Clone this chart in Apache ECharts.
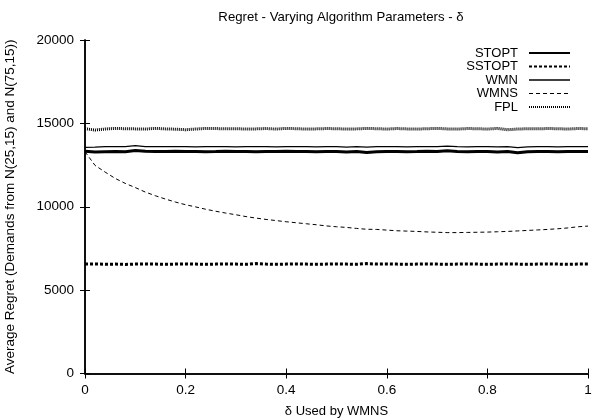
<!DOCTYPE html>
<html>
<head>
<meta charset="utf-8">
<script src="https://cdn.jsdelivr.net/npm/echarts@6/dist/echarts.min.js"></script>
<style>
  html, body { margin: 0; padding: 0; background: #fff; }
  #chart { width: 594px; height: 419px; }
</style>
</head>
<body>
<div id="chart"></div>
<script>
var deltas = [0, 0.02, 0.04, 0.06, 0.08, 0.1, 0.12, 0.14, 0.16, 0.18,
    0.2, 0.22, 0.24, 0.26, 0.28, 0.3, 0.32, 0.34, 0.36, 0.38,
    0.4, 0.42, 0.44, 0.46, 0.48, 0.5, 0.52, 0.54, 0.56, 0.58,
    0.6, 0.62, 0.64, 0.66, 0.68, 0.7, 0.72, 0.74, 0.76, 0.78,
    0.8, 0.82, 0.84, 0.86, 0.88, 0.9, 0.92, 0.94, 0.96, 0.98, 1];

var stopt = [13330, 13290, 13300, 13310, 13300, 13380, 13330, 13320, 13310, 13330,
    13320, 13310, 13300, 13310, 13330, 13320, 13310, 13300, 13320, 13310,
    13330, 13320, 13310, 13300, 13320, 13310, 13290, 13310, 13260, 13300,
    13310, 13320, 13300, 13310, 13330, 13310, 13360, 13310, 13300, 13320,
    13310, 13290, 13310, 13240, 13300, 13320, 13310, 13300, 13320, 13310, 13310];

var sstopt = [6560, 6570, 6550, 6560, 6540, 6560, 6570, 6560, 6550, 6560,
    6570, 6560, 6550, 6560, 6570, 6560, 6550, 6590, 6560, 6550,
    6560, 6570, 6560, 6550, 6560, 6570, 6560, 6550, 6590, 6560,
    6570, 6560, 6550, 6560, 6570, 6560, 6550, 6560, 6570, 6560,
    6550, 6560, 6570, 6560, 6550, 6560, 6570, 6560, 6550, 6560, 6560];

var wmn = [13560, 13570, 13600, 13610, 13600, 13660, 13610, 13600, 13600, 13610,
    13600, 13590, 13600, 13610, 13600, 13590, 13600, 13610, 13600, 13590,
    13600, 13610, 13600, 13590, 13610, 13600, 13580, 13600, 13570, 13600,
    13610, 13600, 13590, 13600, 13610, 13600, 13640, 13600, 13590, 13600,
    13610, 13590, 13600, 13540, 13590, 13610, 13600, 13590, 13610, 13600, 13600];

var wmns = [13300, 12480, 12080, 11700, 11400, 11150, 10880, 10660, 10460, 10280,
    10120, 9990, 9850, 9730, 9620, 9520, 9410, 9320, 9240, 9170,
    9100, 9040, 8980, 8920, 8850, 8800, 8760, 8700, 8650, 8640,
    8600, 8560, 8540, 8520, 8490, 8470, 8450, 8450, 8460, 8470,
    8480, 8500, 8520, 8550, 8580, 8610, 8640, 8680, 8730, 8800, 8840];

var fpl = [14680, 14600, 14660, 14700, 14680, 14670, 14660, 14700, 14670, 14650,
    14620, 14660, 14700, 14690, 14670, 14680, 14660, 14670, 14690, 14660,
    14700, 14680, 14660, 14670, 14690, 14680, 14660, 14670, 14700, 14680,
    14660, 14690, 14670, 14660, 14680, 14700, 14670, 14660, 14690, 14680,
    14660, 14700, 14620, 14660, 14680, 14670, 14690, 14680, 14660, 14690, 14680];

function pairs(vals) {
    return deltas.map(function (d, i) { return [d, vals[i]]; });
}

var chart = echarts.init(document.getElementById('chart'), null, {renderer: 'canvas'});

var font = 'Liberation Sans, Arial, Helvetica, sans-serif';

function lineSeries(name, vals, width, type) {
    return {
        name: name,
        type: 'line',
        data: pairs(vals),
        symbol: 'none',
        smooth: false,
        animation: false,
        lineStyle: {color: '#000', width: width, type: type},
        itemStyle: {color: '#000'}
    };
}

var option = {
    backgroundColor: '#fff',
    animation: false,
    title: {
        text: 'Regret - Varying Algorithm Parameters - δ',
        left: 336,
        textAlign: 'center',
        top: 6,
        textStyle: {fontFamily: font, fontSize: 13.2, fontWeight: 'normal', color: '#000'}
    },
    legend: {
        orient: 'vertical',
        right: 18,
        top: 41.5,
        align: 'right',
        itemWidth: 41,
        itemHeight: 12,
        itemGap: 0.5,
        itemStyle: {opacity: 0},
        textStyle: {fontFamily: font, fontSize: 13, color: '#000', lineHeight: 13, padding: [0, 6, 0, 0]},
        data: [
            'STOPT',
            'SSTOPT',
            {name: 'WMN', lineStyle: {color: '#000', width: 1.5}},
            {name: 'WMNS', lineStyle: {color: '#000', width: 1, type: [4, 3]}},
            'FPL'
        ]
    },
    grid: {left: 85, right: 6, top: 40, bottom: 45.5, containLabel: false, outerBoundsMode: 'none'},
    xAxis: [{
        type: 'value',
        min: 0,
        max: 1,
        interval: 0.2,
        name: 'δ Used by WMNS',
        nameLocation: 'middle',
        nameGap: 31,
        nameTextStyle: {fontFamily: font, fontSize: 13, color: '#000'},
        axisLine: {lineStyle: {color: '#000', width: 1.5}},
        axisTick: {inside: true, length: 5, lineStyle: {color: '#000'}},
        axisLabel: {fontFamily: font, fontSize: 13.5, color: '#000', margin: 10},
        splitLine: {show: false}
    }, {
        type: 'value',
        position: 'top',
        min: 0,
        max: 1,
        interval: 0.2,
        axisLine: {show: true, lineStyle: {color: '#000', width: 1.5}},
        axisTick: {inside: true, length: 5, lineStyle: {color: '#000'}},
        axisLabel: {show: false},
        splitLine: {show: false}
    }],
    yAxis: [{
        type: 'value',
        min: 0,
        max: 20000,
        interval: 5000,
        name: 'Average Regret (Demands from N(25,15) and N(75,15))',
        nameLocation: 'middle',
        nameGap: 68,
        nameTextStyle: {fontFamily: font, fontSize: 13.5, color: '#000'},
        axisLine: {show: true, lineStyle: {color: '#000', width: 1.5}},
        axisTick: {show: true, inside: true, length: 5, lineStyle: {color: '#000'}},
        axisLabel: {
            fontFamily: font, fontSize: 13.5, color: '#000', margin: 11,
            formatter: function (v) { return String(v); }
        },
        splitLine: {show: false}
    }, {
        type: 'value',
        position: 'right',
        min: 0,
        max: 20000,
        interval: 5000,
        axisLine: {show: true, lineStyle: {color: '#000', width: 1.5}},
        axisTick: {show: true, inside: true, length: 5, lineStyle: {color: '#000'}},
        axisLabel: {show: false},
        splitLine: {show: false}
    }],
    series: [
        lineSeries('STOPT', stopt, 3, 'solid'),
        lineSeries('SSTOPT', sstopt, 3, [3, 2]),
        lineSeries('WMN', wmn, 1.2, 'solid'),
        lineSeries('WMNS', wmns, 1, [4, 3]),
        lineSeries('FPL', fpl, 3, [1, 1])
    ]
};

chart.setOption(option);
</script>
</body>
</html>
